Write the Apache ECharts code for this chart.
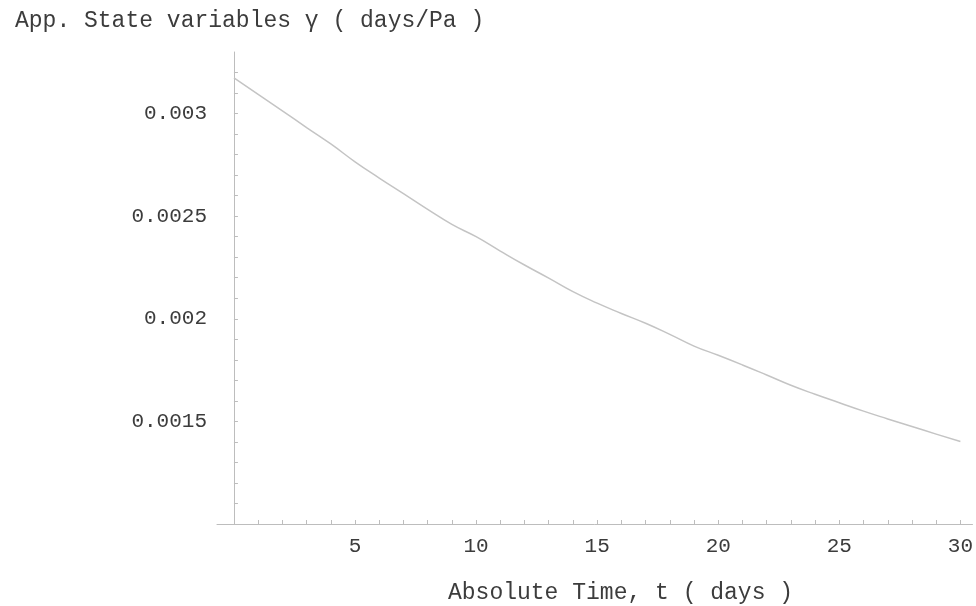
<!DOCTYPE html>
<html>
<head>
<meta charset="utf-8">
<script src="https://cdn.jsdelivr.net/npm/echarts@6/dist/echarts.min.js"></script>
<style>
  html, body { margin: 0; padding: 0; background: #fff; }
  #chart { width: 976px; height: 606px; }
</style>
</head>
<body>
<div id="chart"></div>
<script>
// time in days
const days = [0, 1, 2, 3, 4, 5, 6, 7, 8, 9, 10, 11, 12, 13, 14, 15,
  16, 17, 18, 19, 20, 21, 22, 23, 24, 25, 26, 27, 28, 29, 30];
// apparent state variable gamma (days/Pa)
const gamma = [0.003174, 0.003093, 0.003013, 0.002932, 0.002852, 0.002765,
  0.002686, 0.00261, 0.002533, 0.00246, 0.0024, 0.00233, 0.002262, 0.002198,
  0.002132, 0.002076, 0.002026, 0.001978, 0.001924, 0.001867, 0.001822,
  0.001775, 0.001726, 0.001676, 0.001632, 0.001591, 0.00155, 0.001512,
  0.001475, 0.001438, 0.001402];
const xLabels = [5, 10, 15, 20, 25, 30];
const yLabels = [0.0015, 0.002, 0.0025, 0.003];

const xTicks = [];
for (let i = 1; i <= 30; i++) xTicks.push(i);
const yTicks = [];
for (let i = 11; i <= 32; i++) yTicks.push(i / 10000);

const font = "'Liberation Mono', 'Courier New', monospace";
const axisColor = "#bdbdbd";
const textColor = "#3c3c3c";

const chart = echarts.init(document.getElementById("chart"));
const option = {
  animation: false,
  backgroundColor: "#fff",
  title: [
    {
      text: "App. State variables γ ( days/Pa )",
      left: 10,
      top: 4,
      textStyle: { fontFamily: font, fontSize: 23, fontWeight: "normal", color: textColor },
    },
    {
      text: "Absolute Time, t ( days )",
      left: 443,
      top: 576,
      textStyle: { fontFamily: font, fontSize: 23, fontWeight: "normal", color: textColor },
    },
  ],
  grid: { left: 217, right: 1, top: 52, bottom: 82, containLabel: false },
  xAxis: {
    type: "value",
    min: -0.7,
    max: 30.5,
    axisLine: { onZero: false, lineStyle: { color: axisColor, width: 1 } },
    axisTick: {
      inside: true,
      length: 4,
      customValues: xTicks,
      lineStyle: { color: axisColor },
    },
    axisLabel: {
      customValues: xLabels,
      margin: 12,
      fontFamily: font,
      fontSize: 21,
      color: textColor,
    },
    splitLine: { show: false },
  },
  yAxis: {
    type: "value",
    min: 0.001,
    max: 0.0033,
    axisLine: { show: true, onZero: true, lineStyle: { color: axisColor, width: 1 } },
    axisTick: {
      show: true,
      inside: true,
      length: 4,
      customValues: yTicks,
      lineStyle: { color: axisColor },
    },
    axisLabel: {
      customValues: yLabels,
      margin: 10,
      fontFamily: font,
      fontSize: 21,
      color: textColor,
      formatter: (v) => String(+v.toFixed(4)),
    },
    splitLine: { show: false },
  },
  series: [
    {
      type: "line",
      data: days.map((d, i) => [d, gamma[i]]),
      showSymbol: false,
      smooth: true,
      lineStyle: { color: "#c4c4c4", width: 1.5 },
    },
  ],
};
chart.setOption(option);
</script>
</body>
</html>
